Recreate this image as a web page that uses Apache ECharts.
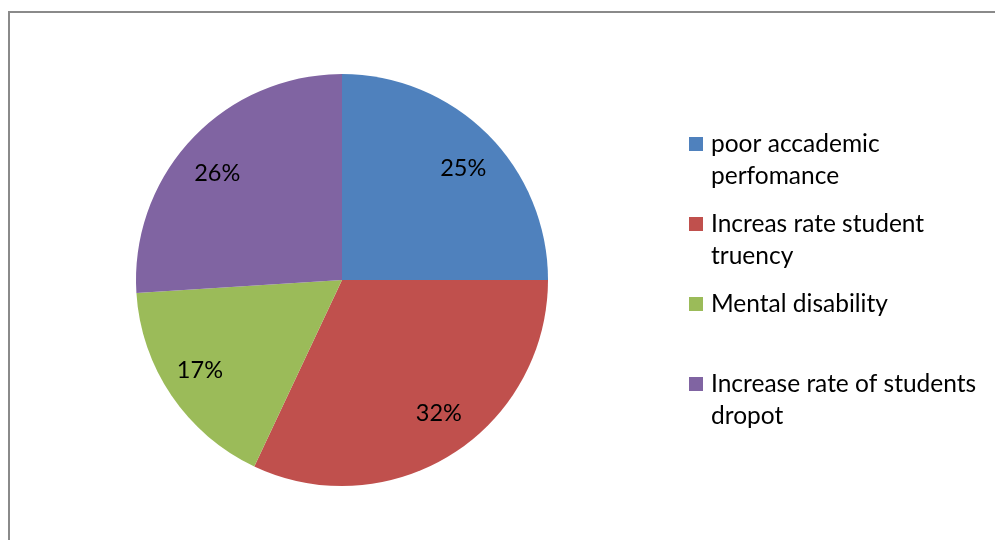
<!DOCTYPE html>
<html>
<head>
<meta charset="utf-8">
<script src="https://cdn.jsdelivr.net/npm/echarts@6/dist/echarts.min.js"></script>
<style>
html,body{margin:0;padding:0;background:#fff;}
#chart{width:995px;height:540px;}
</style>
</head>
<body>
<div id="chart"></div>
<script>
const categories = ['poor accademic perfomance', 'Increas rate student truency', 'Mental disability', 'Increase rate of students dropot'];
const legendLines = [['poor accademic', 'perfomance'], ['Increas rate student', 'truency'], ['Mental disability', ' '], ['Increase rate of students', 'dropot']];
const values = [25, 32, 17, 26];
const colors = ['#4F81BD', '#C0504D', '#9BBB59', '#8064A2'];
const labelNudges = [[4, 6], [8, -7], [-5, -3], [-4, 7]];

const chart = echarts.init(document.getElementById('chart'));
const R = 206;
const data = categories.map((c, i) => ({ name: c, value: values[i], itemStyle: { color: colors[i] } }));
const labelData = categories.map((c, i) => ({ name: c, value: values[i] }));

chart.setOption({
  animation: false,
  graphic: [{
    type: 'rect',
    shape: { x: 9, y: 12, width: 1100, height: 700 },
    style: { fill: 'none', stroke: '#8a8a8a', lineWidth: 2 },
    silent: true
  }],
  legend: {
    orient: 'vertical',
    left: 684,
    top: 91,
    itemWidth: 14,
    itemHeight: 14,
    itemGap: -16,
    icon: 'rect',
    data: categories,
    formatter: function (name) {
      const i = categories.indexOf(name);
      return ' \n' + legendLines[i][0] + '\n' + legendLines[i][1];
    },
    textStyle: { fontFamily: 'Lato', fontSize: 24.5, lineHeight: 32, color: '#000', padding: [0, 0, 0, 3] }
  },
  series: [{
    type: 'pie',
    center: [342, 280],
    radius: [0, R],
    startAngle: 90,
    clockwise: true,
    label: { show: false },
    labelLine: { show: false },
    emphasis: { disabled: true },
    silent: true,
    data: data
  }, {
    type: 'pie',
    center: [342, 280],
    radius: [R * 0.58, R],
    startAngle: 90,
    clockwise: true,
    silent: true,
    itemStyle: { color: 'rgba(0,0,0,0)' },
    label: {
      show: true,
      position: 'inside',
      formatter: '{d}%',
      fontFamily: 'Lato',
      fontSize: 23.5,
      color: '#000'
    },
    labelLayout: function (params) {
      const n = labelNudges[params.dataIndex] || [0, 0];
      return { dx: n[0], dy: n[1] };
    },
    labelLine: { show: false },
    emphasis: { disabled: true },
    data: labelData
  }]
});
</script>
</body>
</html>
